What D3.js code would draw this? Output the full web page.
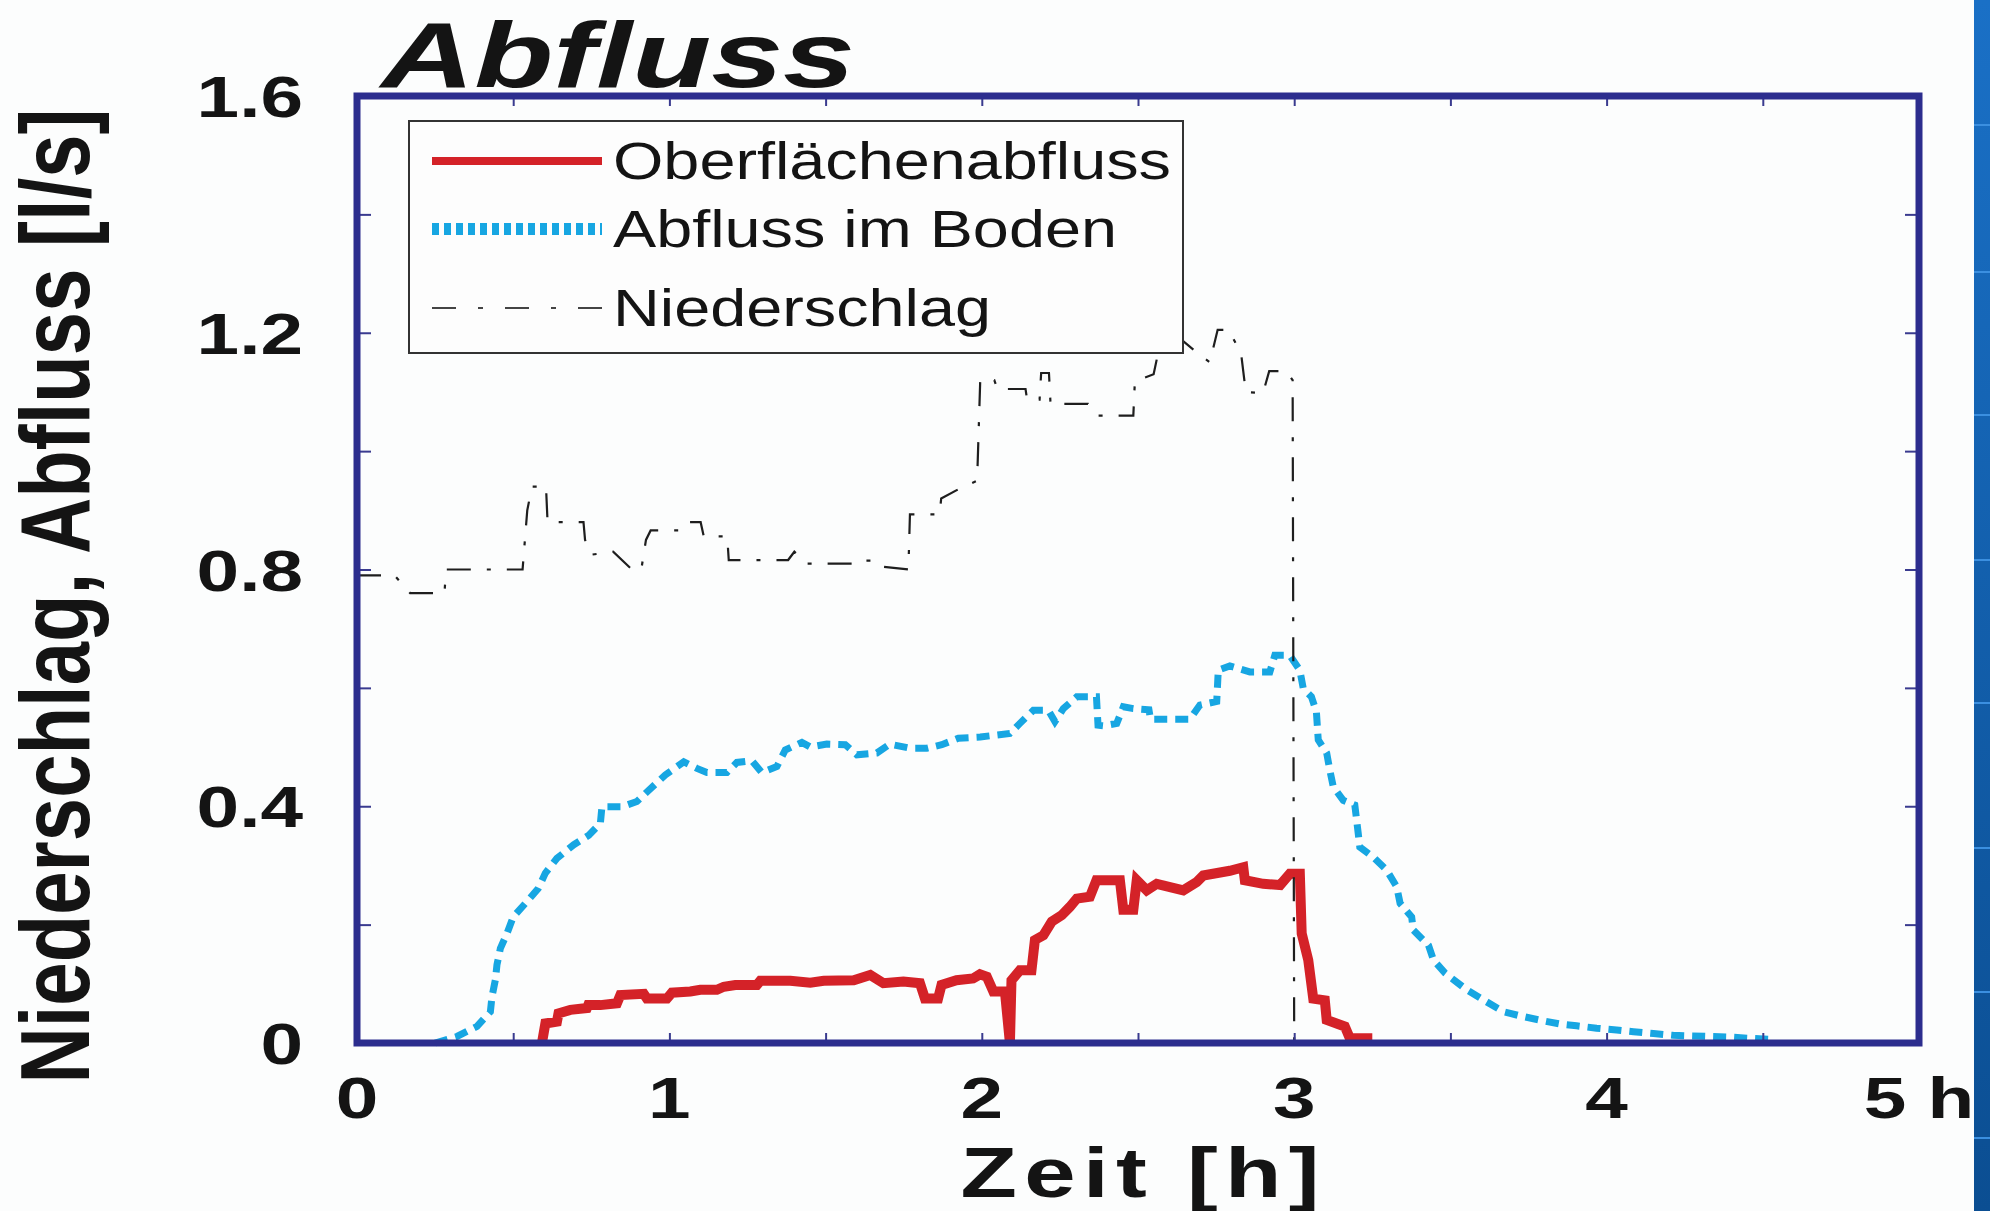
<!DOCTYPE html>
<html>
<head>
<meta charset="utf-8">
<script src="https://cdn.jsdelivr.net/npm/d3@7"></script>
<style>
  body { margin: 0; background: #fcfdfd; }
  svg { display: block; }
  text { font-family: "Liberation Sans", Arial, Helvetica, sans-serif; fill: #141414; }
</style>
</head>
<body>
<div id="fig"></div>
<script>
// ---- data (time in h, flow in l/s) ----
const xTickValues = [0, 1, 2, 3, 4, 5];
const xTickLabels = ["0", "1", "2", "3", "4", "5 h"];
const yTickValues = [0, 0.4, 0.8, 1.2, 1.6];
const yTickLabels = ["0", "0.4", "0.8", "1.2", "1.6"];
const seriesNames = ["Oberflächenabfluss", "Abfluss im Boden", "Niederschlag"];

// Oberflächenabfluss (red, solid)
const surfaceFlow = [
  [0.592,0],[0.603,0.033],[0.64,0.036],[0.645,0.05],[0.683,0.056],[0.736,0.059],[0.74,0.064],
  [0.779,0.064],[0.832,0.067],[0.843,0.081],[0.918,0.083],[0.928,0.075],[0.992,0.075],[1.008,0.085],
  [1.067,0.087],[1.099,0.09],[1.152,0.09],[1.174,0.095],[1.211,0.098],[1.28,0.098],[1.291,0.105],
  [1.387,0.105],[1.451,0.102],[1.494,0.105],[1.59,0.106],[1.643,0.115],[1.685,0.101],[1.749,0.104],
  [1.802,0.101],[1.818,0.075],[1.86,0.075],[1.871,0.098],[1.919,0.106],[1.972,0.109],[1.994,0.116],
  [2.016,0.112],[2.037,0.087],[2.074,0.087],[2.09,0],[2.095,0.106],[2.122,0.123],[2.159,0.123],
  [2.17,0.174],[2.197,0.182],[2.224,0.205],[2.256,0.216],[2.282,0.23],[2.304,0.244],[2.346,0.247],
  [2.367,0.275],[2.442,0.275],[2.453,0.225],[2.485,0.225],[2.496,0.275],[2.528,0.258],[2.56,0.269],
  [2.645,0.258],[2.688,0.272],[2.709,0.283],[2.794,0.291],[2.837,0.297],[2.842,0.275],[2.901,0.269],
  [2.955,0.267],[2.986,0.286],[3.018,0.286],[3.024,0.185],[3.045,0.14],[3.061,0.075],[3.098,0.072],
  [3.104,0.039],[3.162,0.028],[3.178,0.008],[3.25,0.008]
];

// Abfluss im Boden (light blue, dotted)
const soilFlow = [
  [0.25,0],[0.32,0.011],[0.384,0.028],[0.427,0.053],[0.432,0.078],[0.443,0.107],[0.448,0.132],
  [0.459,0.16],[0.48,0.185],[0.5,0.213],[0.539,0.236],[0.58,0.261],[0.603,0.287],[0.64,0.312],
  [0.694,0.335],[0.742,0.351],[0.779,0.371],[0.784,0.399],[0.848,0.399],[0.896,0.408],[0.934,0.427],
  [0.987,0.453],[1.046,0.475],[1.088,0.464],[1.12,0.457],[1.184,0.457],[1.216,0.474],[1.264,0.477],
  [1.296,0.457],[1.344,0.467],[1.371,0.495],[1.424,0.508],[1.451,0.5],[1.504,0.505],[1.563,0.504],
  [1.6,0.487],[1.664,0.49],[1.706,0.505],[1.77,0.498],[1.824,0.498],[1.872,0.504],[1.925,0.515],
  [1.995,0.517],[2.042,0.52],[2.09,0.523],[2.122,0.54],[2.165,0.562],[2.213,0.562],[2.234,0.543],
  [2.261,0.565],[2.304,0.585],[2.367,0.585],[2.372,0.537],[2.39,0.536],[2.432,0.54],[2.453,0.568],
  [2.485,0.565],[2.535,0.563],[2.54,0.547],[2.666,0.547],[2.698,0.571],[2.752,0.577],[2.757,0.63],
  [2.794,0.637],[2.858,0.627],[2.922,0.627],[2.938,0.655],[2.986,0.655],[3.018,0.63],[3.029,0.599],
  [3.055,0.585],[3.071,0.56],[3.077,0.512],[3.104,0.49],[3.114,0.461],[3.125,0.433],[3.157,0.41],
  [3.194,0.402],[3.205,0.354],[3.21,0.331],[3.253,0.314],[3.296,0.292],[3.328,0.264],[3.339,0.236],
  [3.376,0.213],[3.381,0.191],[3.43,0.165],[3.446,0.14],[3.483,0.118],[3.552,0.09],[3.605,0.073],
  [3.67,0.053],[3.722,0.046],[3.792,0.038],[3.851,0.032],[3.904,0.029],[3.968,0.025],[4.032,0.022],
  [4.086,0.019],[4.15,0.016],[4.213,0.013],[4.272,0.012],[4.331,0.011],[4.395,0.01],[4.454,0.008],
  [4.53,0.006]
];

// Niederschlag (black, dash-dot)
const rainfall = [
  [0,0.79],[0.12,0.79],[0.17,0.76],[0.28,0.76],[0.285,0.8],[0.53,0.8],[0.545,0.9],[0.56,0.94],
  [0.605,0.94],[0.61,0.88],[0.725,0.88],[0.73,0.85],[0.75,0.825],[0.82,0.83],[0.88,0.8],[0.91,0.8],
  [0.925,0.85],[0.94,0.866],[1.03,0.866],[1.05,0.88],[1.1,0.88],[1.11,0.856],[1.185,0.856],
  [1.19,0.816],[1.38,0.816],[1.4,0.83],[1.44,0.81],[1.6,0.81],[1.61,0.815],[1.66,0.815],[1.68,0.805],
  [1.765,0.8],[1.77,0.893],[1.865,0.893],[1.87,0.92],[1.93,0.937],[1.985,0.95],[1.995,1.12],
  [2.04,1.12],[2.05,1.105],[2.14,1.105],[2.145,1.087],[2.185,1.087],[2.19,1.132],[2.215,1.132],
  [2.22,1.08],[2.34,1.08],[2.37,1.06],[2.485,1.06],[2.49,1.118],[2.55,1.13],[2.56,1.155],[2.565,1.19],
  [2.635,1.19],[2.69,1.166],[2.73,1.15],[2.755,1.205],[2.79,1.205],[2.83,1.165],[2.845,1.1],
  [2.9,1.098],[2.92,1.135],[2.975,1.135],[2.995,1.12],[3.0,0],[4.8,0]
];

// ---- layout ----
const W = 1990, H = 1211;
const plot = { left: 357, right: 1919, top: 96, bottom: 1043 };
const sx = 1.32;              // the figure is stretched horizontally
const frameColor = "#2c2d8e";

const svg = d3.select("#fig").append("svg")
    .attr("width", W)
    .attr("height", H);

svg.append("rect").attr("width", W).attr("height", H).attr("fill", "#fcfdfd");

const x = d3.scaleLinear().domain([0, 5]).range([plot.left, plot.right]);
const y = d3.scaleLinear().domain([0, 1.6]).range([plot.bottom, plot.top]);

// stretched text helper
function stext(parent, px, py, str, size, opts = {}) {
    const g = parent.append("g")
        .attr("transform", `translate(${px},${py}) scale(${opts.sx || sx},1)` + (opts.rotate ? ` rotate(${opts.rotate})` : ""));
    const t = g.append("text")
        .attr("x", 0).attr("y", 0)
        .attr("text-anchor", opts.anchor || "start")
        .style("font-size", size + "px")
        .style("font-weight", opts.weight || "bold")
        .style("font-style", opts.italic ? "italic" : "normal")
        .text(str);
    if (opts.length) t.attr("textLength", opts.length).attr("lengthAdjust", opts.adjust || "spacingAndGlyphs");
    return t;
}

// ---- series ----
const line = d3.line()
    .x(d => x(d[0]))
    .y(d => y(d[1]));

svg.append("path")
    .datum(surfaceFlow)
    .attr("d", line)
    .attr("fill", "none")
    .attr("stroke", "#d42228")
    .attr("stroke-width", 10)
    .attr("stroke-linejoin", "miter");

svg.append("path")
    .datum(soilFlow)
    .attr("d", line)
    .attr("fill", "none")
    .attr("stroke", "#17a6e2")
    .attr("stroke-width", 7)
    .attr("stroke-dasharray", "13 8");

svg.append("path")
    .datum(rainfall)
    .attr("d", line)
    .attr("fill", "none")
    .attr("stroke", "#1e1e1e")
    .attr("stroke-width", 2.2)
    .attr("stroke-dasharray", "24 16 4 16");

// ---- ticks (inside, on all four sides) ----
const xMinor = d3.range(0, 5.001, 0.5);
const yMinor = d3.range(0, 1.601, 0.2);

const tickStyle = g => g.call(s => s.select(".domain").remove())
    .call(s => s.selectAll(".tick line").attr("stroke", "#3a3b8f").attr("stroke-width", 2))
    .call(s => s.selectAll(".tick text").remove());

svg.append("g").attr("transform", `translate(0,${plot.bottom})`)
    .call(d3.axisBottom(x).tickValues(xMinor).tickSize(-10)).call(tickStyle);
svg.append("g").attr("transform", `translate(0,${plot.top})`)
    .call(d3.axisTop(x).tickValues(xMinor).tickSize(-10)).call(tickStyle);
svg.append("g").attr("transform", `translate(${plot.left},0)`)
    .call(d3.axisLeft(y).tickValues(yMinor).tickSize(-14)).call(tickStyle);
svg.append("g").attr("transform", `translate(${plot.right},0)`)
    .call(d3.axisRight(y).tickValues(yMinor).tickSize(-14)).call(tickStyle);

// frame
svg.append("rect")
    .attr("x", plot.left).attr("y", plot.top)
    .attr("width", plot.right - plot.left)
    .attr("height", plot.bottom - plot.top)
    .attr("fill", "none")
    .attr("stroke", frameColor)
    .attr("stroke-width", 7);

// tick labels
xTickValues.forEach((v, i) => {
    stext(svg, x(v), 1118, xTickLabels[i], 58, { anchor: "middle" });
});
yTickValues.forEach((v, i) => {
    stext(svg, 303, y(v) + 21, yTickLabels[i], 58, { anchor: "end" });
});

// ---- legend ----
const leg = svg.append("g");
leg.append("rect")
    .attr("x", 409).attr("y", 121)
    .attr("width", 774).attr("height", 232)
    .attr("fill", "#fdfdfd")
    .attr("stroke", "#333")
    .attr("stroke-width", 2);

const legendRows = [
    { y: 161, stroke: "#d42228", width: 8, dash: null },
    { y: 229, stroke: "#17a6e2", width: 12, dash: "7 5" },
    { y: 308, stroke: "#444", width: 2, dash: "24 22 5 22" }
];
legendRows.forEach((r, i) => {
    leg.append("line")
        .attr("x1", 432).attr("x2", 602)
        .attr("y1", r.y).attr("y2", r.y)
        .attr("stroke", r.stroke)
        .attr("stroke-width", r.width)
        .attr("stroke-dasharray", r.dash);
    stext(leg, 613, r.y + 18, seriesNames[i], 51, { weight: "normal", sx: 1.27 });
});

// ---- titles ----
stext(svg, 381, 87, "Abfluss", 93, { italic: true, sx: 1.39 });
stext(svg, 89, 596, "Niederschlag, Abfluss [l/s]", 74, { anchor: "middle", rotate: -90, length: 975 });
stext(svg, 1140, 1197, "Zeit [h]", 70, { anchor: "middle", length: 272, adjust: "spacing" });

// ---- slide background strip on the right ----
const grad = svg.append("defs").append("linearGradient")
    .attr("id", "strip").attr("x1", 0).attr("x2", 0).attr("y1", 0).attr("y2", 1);
grad.append("stop").attr("offset", "0%").attr("stop-color", "#1a70c6");
grad.append("stop").attr("offset", "100%").attr("stop-color", "#0b4e92");
svg.append("rect")
    .attr("x", 1974).attr("y", 0)
    .attr("width", W - 1974).attr("height", H)
    .attr("fill", "url(#strip)");
svg.selectAll(".stripline")
    .data([125, 272, 415, 560, 703, 848, 992, 1138])
    .enter().append("line")
    .attr("class", "stripline")
    .attr("x1", 1974).attr("x2", W)
    .attr("y1", d => d).attr("y2", d => d)
    .attr("stroke", "#3b8fe0")
    .attr("stroke-width", 2);
</script>
</body>
</html>
